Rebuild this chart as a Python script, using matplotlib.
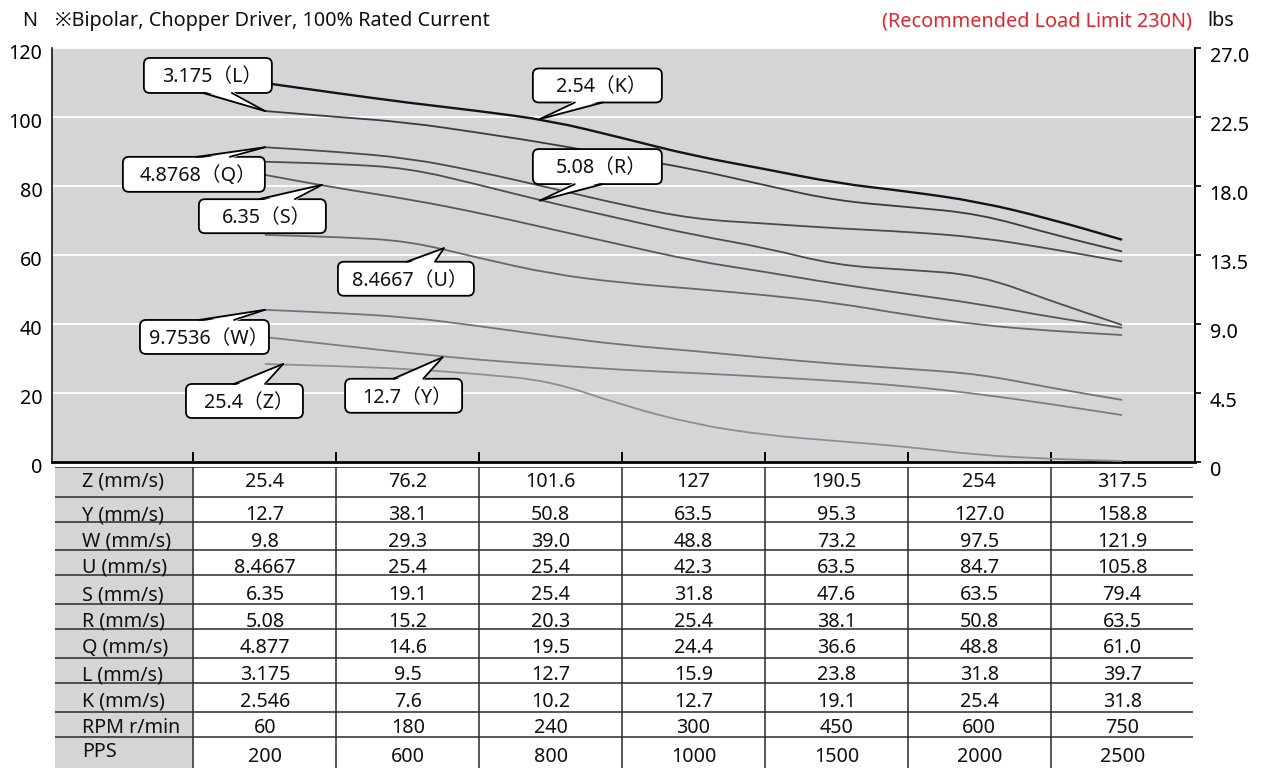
import matplotlib
matplotlib.use("Agg")
import matplotlib.pyplot as plt
from matplotlib.patches import FancyBboxPatch, Polygon, Rectangle, PathPatch
from matplotlib.path import Path
from matplotlib.lines import Line2D
from matplotlib.transforms import IdentityTransform, ScaledTranslation

plt.rcParams['font.family'] = ['Noto Sans', 'Noto Sans CJK JP', 'DejaVu Sans']

# ---------------- data ----------------
# readings taken at every half column (column index of the speed table)
sample_pos = [0, 0.5, 1, 1.5, 2, 2.5, 3, 3.5, 4, 4.5, 5, 5.5, 6]

force_K = [109.7, 106.8, 104.0, 101.6, 98.8, 93.8, 88.6, 84.8, 80.7, 78.3, 75.3, 70.3, 64.3]
force_L = [101.6, 99.9, 98.3, 95.3, 92.1, 88.3, 84.8, 80.1, 75.6, 73.8, 71.8, 66.0, 60.9]
force_Q = [91.1, 89.8, 88.0, 84.0, 79.3, 74.4, 70.3, 69.0, 67.6, 66.6, 65.0, 61.7, 58.0]
force_R = [86.9, 86.3, 85.1, 80.2, 75.0, 70.3, 65.7, 62.0, 56.9, 55.6, 54.1, 46.6, 39.6]
force_S = [83.1, 79.3, 76.1, 72.1, 67.4, 62.8, 58.2, 55.0, 51.5, 48.6, 45.7, 41.9, 38.8]
force_U = [65.7, 65.1, 64.0, 59.0, 54.4, 51.8, 50.1, 48.3, 46.0, 42.5, 39.6, 37.9, 36.7]
force_W = [44.0, 43.1, 41.9, 39.3, 36.4, 33.8, 32.1, 30.1, 28.3, 26.9, 25.4, 21.4, 17.9]
force_Y = [36.1, 33.8, 31.5, 29.5, 28.0, 26.6, 25.7, 24.6, 23.4, 21.9, 19.6, 16.7, 13.5]
force_Z = [28.3, 27.7, 26.9, 25.4, 23.4, 16.4, 10.9, 7.7, 6.0, 4.3, 1.9, 0.8, 0.2]

series = [
    ("K", force_K, "#141414", 1.7),
    ("L", force_L, "#3c3c3c", 1.3),
    ("Q", force_Q, "#4a4a4a", 1.3),
    ("R", force_R, "#4e4e4e", 1.3),
    ("S", force_S, "#575757", 1.3),
    ("U", force_U, "#676767", 1.3),
    ("W", force_W, "#747474", 1.3),
    ("Y", force_Y, "#7e7e7e", 1.3),
    ("Z", force_Z, "#8e8e8e", 1.3),
]

n_ticks = [0, 20, 40, 60, 80, 100, 120]
n_labels = ["0", "20", "40", "60", "80", "100", "120"]
lbs_labels = ["0", "4.5", "9.0", "13.5", "18.0", "22.5", "27.0"]

row_labels = ["Z (mm/s)", "Y (mm/s)", "W (mm/s)", "U (mm/s)", "S (mm/s)", "R (mm/s)",
              "Q (mm/s)", "L (mm/s)", "K (mm/s)", "RPM r/min", "PPS"]
speed_Z = ["25.4", "76.2", "101.6", "127", "190.5", "254", "317.5"]
speed_Y = ["12.7", "38.1", "50.8", "63.5", "95.3", "127.0", "158.8"]
speed_W = ["9.8", "29.3", "39.0", "48.8", "73.2", "97.5", "121.9"]
speed_U = ["8.4667", "25.4", "25.4", "42.3", "63.5", "84.7", "105.8"]
speed_S = ["6.35", "19.1", "25.4", "31.8", "47.6", "63.5", "79.4"]
speed_R = ["5.08", "15.2", "20.3", "25.4", "38.1", "50.8", "63.5"]
speed_Q = ["4.877", "14.6", "19.5", "24.4", "36.6", "48.8", "61.0"]
speed_L = ["3.175", "9.5", "12.7", "15.9", "23.8", "31.8", "39.7"]
speed_K = ["2.546", "7.6", "10.2", "12.7", "19.1", "25.4", "31.8"]
rpm = ["60", "180", "240", "300", "450", "600", "750"]
pps = ["200", "600", "800", "1000", "1500", "2000", "2500"]
table_rows = [speed_Z, speed_Y, speed_W, speed_U, speed_S, speed_R, speed_Q,
              speed_L, speed_K, rpm, pps]

# callouts: text, box centre (data), box size (px), tail side, tail base offsets (px), tip (data)
callouts = [
    ("3.175（L）", (-0.399, 111.9), (128, 35), "bottom", (-5, 24), (0, force_L[0])),
    ("2.54（K）", (2.327, 109.0), (129, 34), "bottom", (-22.5, 5.5), (1.924, 99.25)),
    ("5.08（R）", (2.327, 85.5), (129, 35), "bottom", (-22.5, 5.5), (1.924, 75.65)),
    ("4.8768（Q）", (-0.497, 83.25), (142, 35), "top", (3, 36), (0, force_Q[0])),
    ("6.35（S）", (-0.0175, 71.13), (127, 34), "top", (-3.5, 32.5), (0.399, 80.2)),
    ("8.4667（U）", (0.987, 53.0), (136, 34), "top", (0.7, 29), (1.253, 61.86)),
    ("9.7536（W）", (-0.423, 36.14), (129, 34), "top", (-5.5, 29.5), (0, force_W[0])),
    ("25.4（Z）", (-0.143, 17.59), (117, 34), "top", (-10.5, 20.5), (0.128, 28.32)),
    ("12.7（Y）", (0.971, 19.10), (117, 34), "top", (-10.4, 19.6), (1.244, 30.26)),
]

FS = 14.2

# ---------------- layout ----------------
W_PX, H_PX = 1265, 768
fig = plt.figure(figsize=(W_PX / 100, H_PX / 100), dpi=100)
fig.patch.set_facecolor("white")

ax_left, ax_right = 52, 1195
ax_top, ax_bot = 47.5, 461.7
ax = fig.add_axes([ax_left / W_PX, 1 - ax_bot / H_PX,
                   (ax_right - ax_left) / W_PX, (ax_bot - ax_top) / H_PX])
XLIM = (-1.49, 6.51)
ax.set_xlim(*XLIM)
ax.set_ylim(0, 120)
ax.set_facecolor("#d4d5d7")

ax.set_yticks(n_ticks)
ax.set_yticklabels(n_labels, fontsize=FS)
ax.grid(axis="y", color="white", lw=1.3)
ax.set_axisbelow(True)
ax.tick_params(axis="y", length=0, pad=7)
for lab in ax.get_yticklabels():
    lab.set_transform(lab.get_transform() + ScaledTranslation(0, -3 / 72, fig.dpi_scale_trans))

ax.set_xticks([-0.5, 0.5, 1.5, 2.5, 3.5, 4.5, 5.5])
ax.set_xticklabels([])
ax.tick_params(axis="x", direction="in", length=7, width=1.4, color="black")

ax.spines["top"].set_visible(False)
ax.spines["left"].set_linewidth(1.1)
ax.spines["bottom"].set_linewidth(2.0)
ax.spines["right"].set_linewidth(1.4)

ax2 = ax.twinx()
ax2.set_ylim(0, 120)
ax2.set_yticks(n_ticks)
ax2.set_yticklabels(lbs_labels, fontsize=FS)
ax2.tick_params(axis="y", direction="out", length=4.5, width=1.2, pad=6)
for lab in ax2.get_yticklabels():
    lab.set_transform(lab.get_transform() + ScaledTranslation(0, -5 / 72, fig.dpi_scale_trans))
for s in ("top", "left", "bottom"):
    ax2.spines[s].set_visible(False)
ax2.spines["right"].set_linewidth(1.4)


def smooth_path(xs, ys):
    """Quadratic Bezier path through segment midpoints, the readings act as control points."""
    verts = [(xs[0], ys[0])]
    codes = [Path.MOVETO]
    mids = [((xs[i] + xs[i + 1]) / 2, (ys[i] + ys[i + 1]) / 2) for i in range(len(xs) - 1)]
    verts.append(mids[0])
    codes.append(Path.LINETO)
    for i in range(1, len(xs) - 1):
        verts += [(xs[i], ys[i]), mids[i]]
        codes += [Path.CURVE3, Path.CURVE3]
    verts.append((xs[-1], ys[-1]))
    codes.append(Path.LINETO)
    return Path(verts, codes)


for name, vals, col, lw in series:
    ax.add_patch(PathPatch(smooth_path(sample_pos, vals), fill=False, ec=col, lw=lw,
                           capstyle="butt", joinstyle="round", zorder=3))

# ---------------- callouts ----------------
fig.canvas.draw()
ident = IdentityTransform()
for text, centre, size, side, offs, tip in callouts:
    cx, cy = ax.transData.transform(centre)
    tx, ty = ax.transData.transform(tip)
    w, h = size
    x0, y0 = cx - w / 2, cy - h / 2
    box = FancyBboxPatch((x0, y0), w, h, boxstyle="round,pad=0,rounding_size=6",
                         fc="white", ec="black", lw=1.3, transform=ident,
                         zorder=6, clip_on=False)
    ax.add_artist(box)
    if side == "bottom":
        by, inner = y0, y0 + 2
    else:
        by, inner = y0 + h, y0 + h - 2
    b1, b2 = cx + offs[0], cx + offs[1]
    poly = Polygon([(b1, inner), (b2, inner), (tx, ty)], closed=True, fc="white",
                   ec="none", transform=ident, zorder=7, clip_on=False)
    ax.add_artist(poly)
    for bx in (b1, b2):
        ax.add_artist(Line2D([bx, tx], [by, ty], color="black", lw=1.3,
                             transform=ident, zorder=8, clip_on=False,
                             solid_capstyle="round"))
    ax.text(cx + 4, cy - 2, text, transform=ident, ha="center", va="center",
            fontsize=14.2, zorder=9, color="#111111")

# ---------------- table ----------------
tab_top = 466.5
tab = fig.add_axes([ax_left / W_PX, 0, (ax_right - ax_left) / W_PX, (H_PX - tab_top) / H_PX])
tab.set_xlim(*XLIM)
tab.set_ylim(H_PX, tab_top)
tab.axis("off")

row_edges = [466.5, 497, 522, 550, 575, 604, 629, 658, 683, 712, 737, 768]
row_baselines = [487, 520, 546.7, 573, 600, 626.7, 653, 680, 706.7, 733, 761.7]
label_baselines = [487, 520, 546.7, 573, 600, 626.7, 653, 680, 706.7, 733, 757]
tab_x0 = (55 - 265) / 142.9
tab_x1 = (1193 - 265) / 142.9
label_x = (82 - 265) / 142.9

tab.add_patch(Rectangle((tab_x0, tab_top), -0.5 - tab_x0, H_PX - tab_top,
                        fc="#d4d5d7", ec="none", zorder=1))
for ye in row_edges[:-1]:
    tab.plot([tab_x0, tab_x1], [ye, ye], color="#2a2a2a", lw=1.1, zorder=2,
             solid_capstyle="butt")
for xe in [-0.5, 0.5, 1.5, 2.5, 3.5, 4.5, 5.5]:
    tab.plot([xe, xe], [tab_top, H_PX], color="#2a2a2a", lw=1.1, zorder=2)

for r, (lab, vals) in enumerate(zip(row_labels, table_rows)):
    tab.text(label_x, label_baselines[r], lab, ha="left", va="baseline",
             fontsize=FS, color="#111111")
    for c, v in enumerate(vals):
        tab.text(c, row_baselines[r], v, ha="center", va="baseline",
                 fontsize=FS, color="#111111")

# ---------------- header texts ----------------
def fy(py):
    return 1 - py / H_PX

fig.text(22 / W_PX, fy(26), "N", fontsize=14.3, va="baseline", ha="left", color="#111111")
fig.text(55 / W_PX, fy(26), "※Bipolar, Chopper Driver, 100% Rated Current", fontsize=14.3,
         va="baseline", ha="left", color="#111111")
fig.text(1192 / W_PX, fy(26), "(Recommended Load Limit 230N)", fontsize=14.3,
         va="baseline", ha="right", color="#e0262e")
fig.text(1207 / W_PX, fy(26), "lbs", fontsize=14.3, va="baseline", ha="left", color="#111111")

fig.savefig("out.png", dpi=100)
